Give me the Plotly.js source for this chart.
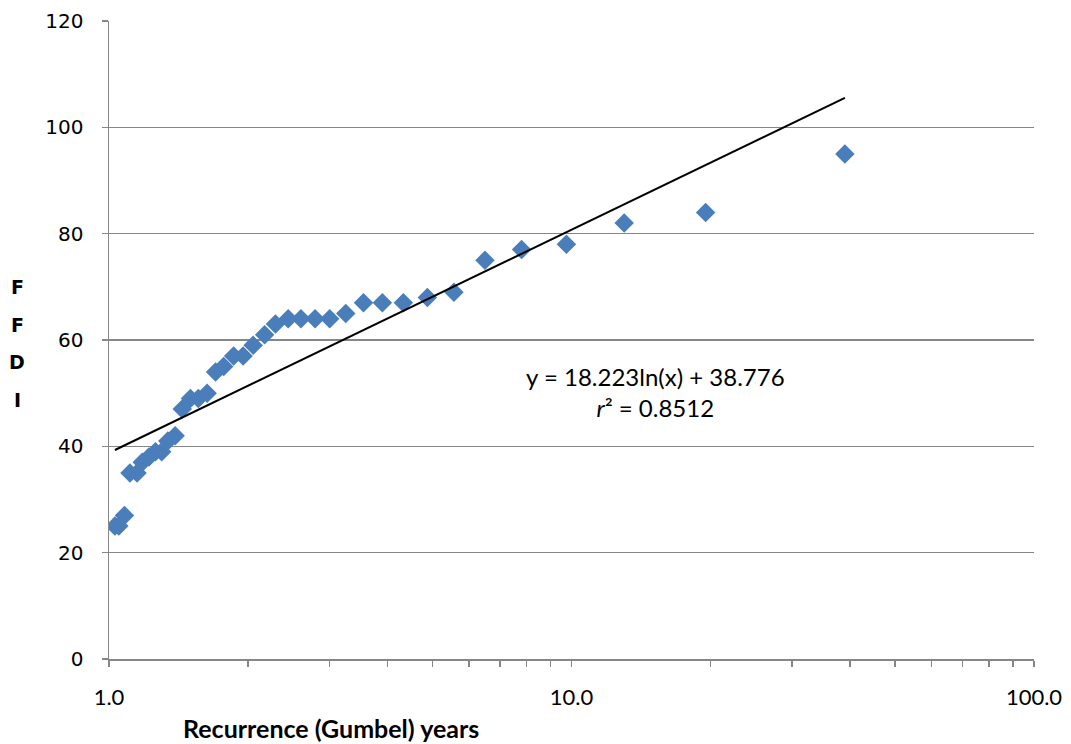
<!DOCTYPE html>
<html>
<head>
<meta charset="utf-8">
<script src="https://cdn.plot.ly/plotly-3.0.1.min.js"></script>
<style>
  html, body { margin: 0; padding: 0; background: #fff; }
  #chart { width: 1071px; height: 744px; }
</style>
</head>
<body>
<div id="chart"></div>
<script>
// Recurrence interval (Gumbel ranking, years) for each ranked FFDI value
const recurrenceYears = [39.0, 19.5, 13.0, 9.75, 7.8, 6.5, 5.57, 4.88, 4.33, 3.9,
  3.55, 3.25, 3.0, 2.79, 2.6, 2.44, 2.29, 2.17, 2.05, 1.95,
  1.86, 1.77, 1.70, 1.63, 1.56, 1.5, 1.44, 1.39, 1.34, 1.3,
  1.26, 1.22, 1.18, 1.15, 1.11, 1.08, 1.05, 1.03];

// FFDI values, ranked from largest to smallest
const ffdi = [95, 84, 82, 78, 77, 75, 69, 68, 67, 67,
  67, 65, 64, 64, 64, 64, 63, 61, 59, 57,
  57, 55, 54, 50, 49, 49, 47, 42, 41, 39,
  39, 38, 37, 35, 35, 27, 25, 25];

// Logarithmic trendline coefficients: y = a ln(x) + b
const trendA = 18.223;
const trendB = 38.776;
const trendR2 = 0.8512;

const yTickVals = [0, 20, 40, 60, 80, 100, 120];
const yTitleLetters = ['F', 'F', 'D', 'I'];

// Sample the trendline across the span of the data
const xMin = Math.min(...recurrenceYears);
const xMax = Math.max(...recurrenceYears);
const trendX = [];
const trendY = [];
const steps = 80;
for (let i = 0; i <= steps; i++) {
  const lx = Math.log(xMin) + (Math.log(xMax) - Math.log(xMin)) * i / steps;
  const x = Math.exp(lx);
  trendX.push(x);
  trendY.push(trendA * Math.log(x) + trendB);
}

const gridGray = '#868686';

const traces = [
  {
    x: recurrenceYears,
    y: ffdi,
    type: 'scatter',
    mode: 'markers',
    marker: { symbol: 'diamond', size: 15, color: '#4A7EBB', line: { width: 0 } },
    hoverinfo: 'x+y',
    showlegend: false
  },
  {
    x: trendX,
    y: trendY,
    type: 'scatter',
    mode: 'lines',
    line: { color: '#000000', width: 2 },
    hoverinfo: 'skip',
    showlegend: false
  }
];

const annotations = [
  {
    xref: 'paper', yref: 'paper',
    x: 0.591, y: 0.418,
    xanchor: 'center', yanchor: 'middle',
    text: 'y = ' + trendA.toFixed(3) + 'ln(x) + ' + trendB.toFixed(3) + '<br><i>r</i>² = ' + trendR2.toFixed(4),
    showarrow: false,
    align: 'center',
    font: { family: 'Lato, sans-serif', size: 24, color: '#000000' }
  },
  {
    xref: 'paper', yref: 'paper',
    x: 0.24, y: -0.108,
    xanchor: 'center', yanchor: 'middle',
    text: '<b>Recurrence (Gumbel) years</b>',
    showarrow: false,
    font: { family: 'Lato, sans-serif', size: 25, color: '#000000' }
  }
];

// Stacked vertical letters of the y-axis title
const letterCenters = [287, 325, 362, 400];
yTitleLetters.forEach((ch, i) => {
  annotations.push({
    xref: 'paper', yref: 'paper',
    x: (17 - 109) / 925, y: (659 - letterCenters[i]) / 638,
    xanchor: 'center', yanchor: 'middle',
    text: '<b>' + ch + '</b>',
    showarrow: false,
    font: { family: 'DejaVu Sans, sans-serif', size: 19, color: '#000000' }
  });
});

const layout = {
  width: 1071,
  height: 744,
  margin: { l: 109, r: 37, t: 21, b: 85 },
  paper_bgcolor: '#ffffff',
  plot_bgcolor: '#ffffff',
  xaxis: {
    type: 'log',
    range: [0, 2],
    dtick: 1,
    tickformat: '.1f',
    ticks: 'outside',
    ticklen: 6,
    tickcolor: gridGray,
    tickwidth: 1.5,
    showgrid: false,
    zeroline: false,
    showline: true,
    linecolor: gridGray,
    linewidth: 1.5,
    minor: { ticks: 'outside', ticklen: 6, tickcolor: gridGray, tickwidth: 1.5, dtick: 'D1', showgrid: false },
    ticklabelstandoff: 12,
    tickfont: { family: 'Lato, sans-serif', size: 22, color: '#000000' },
    fixedrange: true
  },
  yaxis: {
    range: [0, 120],
    tickvals: yTickVals,
    ticks: 'outside',
    ticklen: 6,
    tickcolor: gridGray,
    tickwidth: 1.5,
    showgrid: true,
    gridcolor: gridGray,
    gridwidth: 1.5,
    zeroline: false,
    showline: true,
    linecolor: gridGray,
    linewidth: 1.5,
    ticklabelstandoff: 14,
    tickfont: { family: 'DejaVu Sans, sans-serif', size: 20, color: '#000000' },
    fixedrange: true
  },
  annotations: annotations,
  showlegend: false
};

Plotly.newPlot('chart', traces, layout, { displayModeBar: false, staticPlot: true });
</script>
</body>
</html>
